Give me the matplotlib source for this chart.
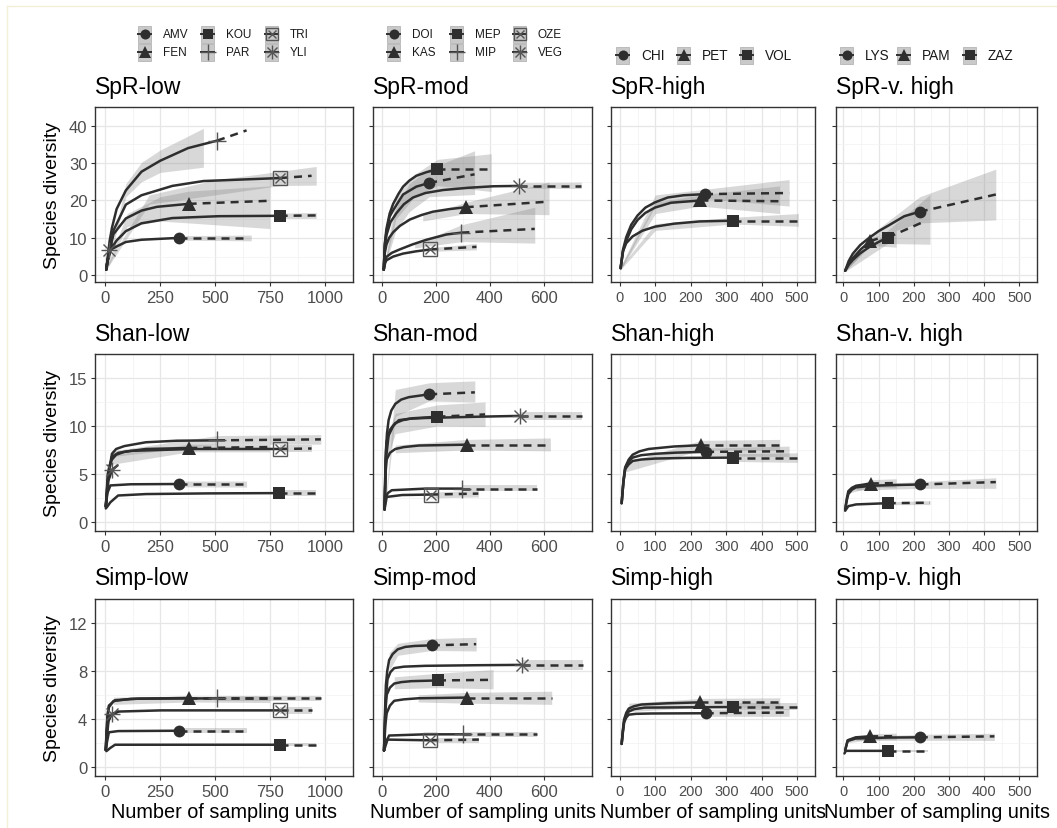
import matplotlib
matplotlib.use("Agg")
import matplotlib.pyplot as plt
from matplotlib.patches import Rectangle

plt.rcParams['font.family'] = ['Liberation Sans', 'DejaVu Sans']

W, H = 1057, 829
LINE = '#2e2e2e'
THIN = '#555555'
RIB = '#808080'

# marker shape for every site
shapes = {
    'AMV': 'o', 'FEN': '^', 'KOU': 's', 'PAR': '+', 'TRI': 'boxx', 'YLI': 'ast',
    'DOI': 'o', 'KAS': '^', 'MEP': 's', 'MIP': '+', 'OZE': 'boxx', 'VEG': 'ast',
    'CHI': 'o', 'PET': '^', 'VOL': 's',
    'LYS': 'o', 'PAM': '^', 'ZAZ': 's',
}

sites_low = ['AMV', 'FEN', 'KOU', 'PAR', 'TRI', 'YLI']
sites_mod = ['DOI', 'KAS', 'MEP', 'MIP', 'OZE', 'VEG']
sites_high = ['CHI', 'PET', 'VOL']
sites_vhigh = ['LYS', 'PAM', 'ZAZ']

# curves: site -> (rarefied x, rarefied y, extrapolated end x, end y)
# ribbons: site -> (x, lower, upper)

# ---- species richness ----
spr_low = {
    'AMV': ([5, 10, 24, 52, 94, 165, 336], [1.5, 3.5, 6.8, 7.7, 8.9, 9.5, 10.0], 642, 10.0),
    'FEN': ([5, 10, 24, 38, 94, 165, 235, 379], [1.5, 3.5, 7.5, 11.0, 15.2, 17.3, 18.3, 19.1], 740, 19.9),
    'KOU': ([5, 10, 24, 52, 94, 165, 305, 516, 792], [1.5, 3.5, 6.8, 9.3, 11.8, 13.9, 15.3, 15.8, 15.9], 958, 16.0),
    'PAR': ([5, 10, 20, 31, 52, 94, 165, 249, 376, 508], [1.5, 3.8, 9.0, 12.7, 17.7, 22.7, 27.7, 30.6, 34.0, 36.0], 642, 38.75),
    'TRI': ([5, 10, 24, 38, 94, 165, 305, 446, 794], [1.5, 3.6, 8.0, 12.0, 18.9, 21.4, 23.9, 25.2, 26.0], 937, 26.6),
    'YLI': ([5, 10, 17], [1.5, 3.5, 6.8], 34, 8.5),
}
spr_low_rib = {
    'AMV': ([336, 663], [9.4, 9.2], [10.6, 10.75]),
    'FEN': ([5, 100, 250, 379, 747], [1.2, 13.0, 14.5, 14.0, 12.5], [2.0, 16.5, 21.0, 22.5, 23.9]),
    'KOU': ([792, 958], [15.2, 15.2], [16.6, 16.8]),
    'PAR': ([8, 94, 165, 250, 446], [1.8, 21.0, 25.0, 27.5, 28.9], [2.2, 24.5, 30.2, 33.5, 39.3]),
    'TRI': ([5, 200, 500, 794, 958], [1.5, 19.0, 21.5, 24.0, 24.1], [2.5, 21.5, 25.5, 27.8, 29.1]),
}
spr_mod = {
    'DOI': ([5, 9, 15, 27, 40, 77, 126, 174], [1.5, 8.2, 11.5, 15.7, 17.4, 21.6, 23.7, 24.7], 343, 27.0),
    'KAS': ([5, 9, 15, 25, 40, 65, 102, 145, 188, 250, 310], [1.5, 6.0, 8.2, 10.0, 11.5, 13.2, 14.9, 16.1, 17.0, 17.7, 18.2], 620, 19.7),
    'MEP': ([5, 9, 15, 27, 40, 60, 77, 100, 126, 165, 205], [1.5, 8.5, 12.4, 16.5, 19.1, 21.8, 23.7, 25.3, 26.6, 27.6, 28.3], 405, 28.3),
    'MIP': ([5, 10, 15, 35, 64, 110, 164, 238, 294], [1.5, 3.8, 4.9, 6.0, 6.9, 8.2, 9.5, 10.9, 11.4], 567, 12.4),
    'OZE': ([5, 10, 15, 40, 77, 125, 178], [1.5, 3.3, 4.0, 5.0, 5.8, 6.4, 6.9], 350, 7.6),
    'VEG': ([5, 9, 15, 30, 52, 80, 114, 160, 226, 320, 412, 508], [1.5, 7.5, 10.7, 14.2, 16.6, 19.0, 20.8, 22.0, 22.8, 23.4, 23.8, 23.9], 740, 23.9),
}
spr_mod_rib = {
    'DOI': ([5, 50, 100, 174, 343], [1.2, 12.0, 17.0, 21.0, 21.6], [2.0, 18.0, 24.5, 28.5, 33.3]),
    'MEP': ([5, 50, 120, 205, 405], [1.2, 15.0, 21.0, 24.0, 22.4], [2.0, 21.0, 27.0, 31.0, 32.5]),
    'VEG': ([508, 740], [23.3, 23.2], [24.8, 24.9]),
    'KAS': ([150, 310, 620], [14.5, 16.5, 16.2], [16.0, 19.5, 24.9]),
    'MIP': ([120, 294, 567], [7.3, 9.0, 8.6], [8.3, 13.5, 18.2]),
    'OZE': ([178, 350], [6.4, 6.8], [7.4, 8.5]),
}
spr_high = {
    'CHI': ([2, 9, 18, 32, 50, 72, 99, 135, 180, 240], [1.9, 6.9, 10.2, 13.5, 16.0, 18.1, 19.5, 20.8, 21.4, 21.7], 477, 22.0),
    'PET': ([2, 9, 18, 32, 50, 72, 99, 144, 227], [1.9, 6.5, 9.2, 12.3, 14.8, 16.7, 18.1, 19.4, 20.0], 450, 19.8),
    'VOL': ([2, 9, 18, 36, 63, 99, 153, 225, 318], [1.9, 6.5, 8.6, 10.4, 11.9, 13.0, 13.8, 14.4, 14.6], 500, 14.6),
}
spr_high_rib = {
    'CHI': ([2, 100, 240, 477], [1.5, 18.5, 20.5, 18.5], [2.3, 21.5, 23.0, 25.6]),
    'PET': ([2, 100, 227, 450], [1.5, 16.5, 18.5, 16.5], [2.3, 19.5, 21.5, 23.9]),
    'VOL': ([2, 100, 318, 503], [1.5, 12.0, 13.7, 13.1], [2.3, 13.8, 15.5, 16.5]),
}
spr_vhigh = {
    'LYS': ([5, 15, 27, 48, 73, 100, 128, 173, 217], [1.2, 3.8, 5.8, 8.1, 10.0, 11.8, 13.3, 15.8, 17.0], 433, 21.6),
    'PAM': ([5, 15, 27, 50, 76], [1.2, 3.2, 4.6, 7.0, 9.1], 150, 11.5),
    'ZAZ': ([5, 15, 27, 48, 73, 100, 126], [1.2, 2.8, 4.1, 5.9, 7.5, 8.9, 10.1], 233, 14.5),
}
spr_vhigh_rib = {
    'LYS': ([5, 100, 217, 433], [1.0, 10.5, 14.0, 14.8], [1.5, 12.5, 21.0, 28.4]),
    'ZAZ': ([5, 126, 246], [1.0, 8.5, 8.3], [2.0, 12.0, 21.6]),
    'PAM': ([5, 76, 150], [1.0, 8.0, 7.5], [2.0, 10.0, 12.0]),
}

# ---- Shannon ----
shan_low = {
    'AMV': ([3, 10, 24, 115, 336], [1.6, 3.0, 3.8, 3.92, 3.95], 642, 3.95),
    'FEN': ([3, 12, 20, 31, 50, 87, 185, 382], [1.6, 5.0, 5.9, 6.5, 7.0, 7.3, 7.6, 7.7], 747, 7.8),
    'KOU': ([3, 10, 24, 59, 185, 466, 789], [1.4, 1.6, 2.05, 2.75, 2.9, 2.97, 3.0], 958, 3.0),
    'PAR': ([3, 10, 17, 31, 50, 87, 185, 326, 508], [1.6, 3.8, 5.2, 7.1, 7.6, 7.9, 8.3, 8.46, 8.5], 979, 8.6),
    'TRI': ([3, 15, 31, 60, 115, 396, 794], [1.6, 5.0, 6.8, 7.2, 7.4, 7.6, 7.6], 937, 7.65),
    'YLI': ([3, 15, 31], [1.6, 4.3, 5.4], 62, 6.0),
}
shan_low_rib = {
    'PAR': ([31, 508, 979], [6.8, 8.1, 8.1], [7.4, 9.0, 9.1]),
    'FEN': ([31, 382, 747], [6.0, 7.3, 7.3], [7.0, 8.1, 8.1]),
    'TRI': ([794, 937], [7.3, 7.3], [8.0, 8.0]),
    'AMV': ([336, 642], [3.65, 3.63], [4.25, 4.26]),
    'KOU': ([789, 958], [2.7, 2.7], [3.3, 3.3]),
}
shan_mod = {
    'DOI': ([8, 11, 13, 17, 23, 33, 48, 70, 98, 174], [1.3, 5.5, 7.4, 9.2, 10.6, 11.6, 12.3, 12.75, 13.0, 13.3], 344, 13.5),
    'KAS': ([8, 12, 16, 28, 48, 80, 136, 313], [1.3, 5.2, 6.5, 7.2, 7.6, 7.8, 7.96, 8.05], 625, 8.05),
    'MEP': ([8, 12, 16, 28, 48, 75, 111, 205], [1.3, 6.5, 8.4, 9.6, 10.3, 10.6, 10.8, 10.96], 382, 11.2),
    'MIP': ([8, 10, 20, 35, 161, 296], [1.3, 2.37, 3.0, 3.3, 3.47, 3.47], 577, 3.47),
    'OZE': ([8, 16, 73, 180], [1.3, 2.6, 2.8, 2.85], 357, 2.95),
    'VEG': ([8, 13, 23, 40, 61, 100, 161, 350, 512], [1.3, 6.5, 9.0, 10.0, 10.6, 10.75, 10.83, 10.96, 11.05], 741, 11.05),
}
shan_mod_rib = {
    'DOI': ([10, 48, 174, 344], [1.2, 11.0, 12.6, 12.5], [1.8, 13.8, 14.5, 14.7]),
    'MEP': ([16, 48, 205, 382], [6.5, 9.2, 10.0, 9.95], [9.0, 11.3, 12.2, 12.5]),
    'VEG': ([512, 741], [10.64, 10.64], [11.46, 11.46]),
    'KAS': ([48, 313, 625], [7.2, 7.5, 7.4], [8.0, 8.6, 8.75]),
    'MIP': ([296, 577], [3.2, 3.2], [3.8, 3.8]),
    'OZE': ([180, 357], [2.5, 2.6], [3.1, 3.3]),
}
shan_high = {
    'CHI': ([5, 10, 15, 25, 36, 60, 99, 160, 243], [1.95, 4.2, 5.6, 6.3, 6.7, 6.95, 7.1, 7.22, 7.3], 477, 7.36),
    'PET': ([5, 10, 15, 25, 36, 55, 81, 153, 230], [1.95, 4.3, 5.7, 6.5, 7.0, 7.35, 7.6, 7.86, 8.0], 450, 8.0),
    'VOL': ([5, 10, 15, 25, 36, 60, 99, 189, 318], [1.95, 4.1, 5.5, 6.0, 6.35, 6.5, 6.6, 6.67, 6.7], 500, 6.7),
}
shan_high_rib = {
    'PET': ([15, 230, 450], [5.2, 7.5, 7.45], [6.2, 8.5, 8.6]),
    'CHI': ([243, 477], [6.9, 6.8], [7.7, 7.9]),
    'VOL': ([318, 500], [6.3, 6.2], [7.1, 7.2]),
}
shan_vhigh = {
    'LYS': ([5, 10, 14, 24, 36, 82, 146, 219], [1.3, 2.3, 2.9, 3.35, 3.6, 3.77, 3.84, 3.9], 433, 4.15),
    'PAM': ([5, 10, 14, 24, 36, 78], [1.3, 2.5, 3.2, 3.55, 3.77, 4.0], 150, 4.05),
    'ZAZ': ([5, 14, 36, 126], [1.16, 1.64, 1.82, 1.95], 246, 2.0),
}
shan_vhigh_rib = {
    'LYS': ([36, 219, 433], [3.3, 3.5, 3.5], [3.9, 4.2, 4.6]),
    'PAM': ([14, 78, 150], [3.0, 3.6, 3.55], [3.4, 4.4, 4.5]),
    'ZAZ': ([126, 246], [1.8, 1.8], [2.1, 2.2]),
}

# ---- Simpson ----
simp_low = {
    'AMV': ([3, 6, 17, 59, 336], [1.4, 1.83, 2.87, 2.97, 3.0], 642, 3.0),
    'FEN': ([3, 10, 17, 38, 115, 379], [1.4, 4.0, 4.96, 5.48, 5.66, 5.74], 747, 5.74),
    'KOU': ([3, 6, 24, 45, 792], [1.4, 1.3, 1.57, 1.83, 1.83], 958, 1.83),
    'PAR': ([3, 10, 17, 45, 150, 508], [1.4, 4.2, 5.1, 5.55, 5.68, 5.7], 979, 5.7),
    'TRI': ([3, 6, 14, 24, 59, 256, 794], [1.4, 2.9, 3.8, 4.3, 4.6, 4.7, 4.7], 937, 4.7),
    'YLI': ([3, 15, 31], [1.4, 3.8, 4.4], 62, 4.6),
}
simp_low_rib = {
    'FEN': ([38, 379, 747], [5.2, 5.4, 5.35], [5.8, 5.9, 5.9]),
    'PAR': ([508, 979], [5.5, 5.5], [5.9, 5.9]),
    'TRI': ([794, 937], [4.4, 4.4], [5.0, 5.0]),
    'AMV': ([336, 642], [2.8, 2.8], [3.2, 3.2]),
    'KOU': ([792, 958], [1.7, 1.7], [1.95, 1.95]),
}
simp_mod = {
    'DOI': ([6, 10, 13, 18, 25, 38, 57, 85, 120, 184], [1.35, 4.8, 6.8, 8.0, 8.9, 9.4, 9.8, 10.0, 10.08, 10.13], 349, 10.23),
    'KAS': ([6, 11, 16, 28, 44, 80, 133, 313], [1.35, 3.5, 4.47, 5.1, 5.5, 5.62, 5.71, 5.77], 630, 5.77),
    'MEP': ([6, 11, 16, 28, 44, 70, 108, 207], [1.35, 4.6, 6.0, 6.6, 6.94, 7.06, 7.14, 7.2], 412, 7.25),
    'MIP': ([6, 9, 25, 159, 300], [1.35, 1.87, 2.6, 2.7, 2.7], 577, 2.7),
    'OZE': ([6, 19, 95, 178], [1.35, 2.26, 2.23, 2.2], 359, 2.26),
    'VEG': ([6, 12, 19, 30, 44, 80, 159, 349, 520], [1.35, 5.5, 7.3, 7.9, 8.23, 8.35, 8.42, 8.47, 8.5], 748, 8.5),
}
simp_mod_rib = {
    'DOI': ([25, 57, 184, 349], [8.0, 9.3, 9.7, 9.66], [9.5, 10.3, 10.7, 10.8]),
    'VEG': ([520, 748], [8.05, 8.05], [8.9, 8.9]),
    'MEP': ([44, 207, 412], [6.5, 6.6, 6.5], [7.5, 7.8, 8.1]),
    'KAS': ([133, 313, 630], [5.4, 5.3, 5.2], [6.0, 6.2, 6.3]),
    'MIP': ([300, 577], [2.5, 2.5], [2.9, 2.9]),
    'OZE': ([178, 359], [2.0, 2.0], [2.4, 2.4]),
}
simp_high = {
    'CHI': ([5, 9, 12, 18, 25, 45, 89, 242], [1.9, 3.0, 3.69, 4.1, 4.34, 4.41, 4.44, 4.46], 477, 4.52),
    'PET': ([5, 9, 12, 18, 25, 40, 61, 134, 227], [1.9, 3.2, 3.95, 4.5, 4.85, 5.05, 5.19, 5.29, 5.37], 450, 5.37),
    'VOL': ([5, 9, 12, 18, 25, 40, 70, 319], [1.9, 3.1, 3.82, 4.3, 4.6, 4.8, 4.93, 4.98], 500, 4.98),
}
simp_high_rib = {
    'PET': ([25, 227, 450], [4.6, 4.95, 4.85], [5.3, 5.7, 5.75]),
    'VOL': ([319, 500], [4.7, 4.7], [5.3, 5.3]),
    'CHI': ([242, 477], [4.2, 4.2], [4.8, 4.85]),
}
simp_vhigh = {
    'LYS': ([5, 12, 35, 126, 217], [1.37, 2.14, 2.35, 2.43, 2.45], 429, 2.53),
    'PAM': ([5, 12, 35, 76], [1.37, 2.2, 2.45, 2.53], 150, 2.55),
    'ZAZ': ([3, 7, 126], [1.1, 1.32, 1.32], 240, 1.32),
}
simp_vhigh_rib = {
    'LYS': ([35, 217, 429], [2.2, 2.2, 2.19], [2.5, 2.7, 2.79]),
    'PAM': ([12, 76, 150], [2.0, 2.25, 2.25], [2.4, 2.75, 2.8]),
    'ZAZ': ([126, 240], [1.25, 1.25], [1.4, 1.4]),
}

row_titles = [['SpR-low', 'SpR-mod', 'SpR-high', 'SpR-v. high'],
              ['Shan-low', 'Shan-mod', 'Shan-high', 'Shan-v. high'],
              ['Simp-low', 'Simp-mod', 'Simp-high', 'Simp-v. high']]
grid_curves = [[spr_low, spr_mod, spr_high, spr_vhigh],
               [shan_low, shan_mod, shan_high, shan_vhigh],
               [simp_low, simp_mod, simp_high, simp_vhigh]]
grid_ribs = [[spr_low_rib, spr_mod_rib, spr_high_rib, spr_vhigh_rib],
             [shan_low_rib, shan_mod_rib, shan_high_rib, shan_vhigh_rib],
             [simp_low_rib, simp_mod_rib, simp_high_rib, simp_vhigh_rib]]

col_xticks = [[0, 250, 500, 750, 1000], [0, 200, 400, 600],
              [0, 100, 200, 300, 400, 500], [0, 100, 200, 300, 400, 500]]
row_yticks = [[0, 10, 20, 30, 40], [0, 5, 10, 15], [0, 4, 8, 12]]

# layout in pixels
col_px = [(95, 353), (373, 592), (611, 815), (836, 1037)]
row_px = [(108, 283), (355, 532), (600, 777)]
col_xlim = [(-46, 1042), (-35, 780), (-25, 527), (-21, 529)]
row_ylim = [(-1.8, 41.9), (-0.95, 15.76), (-0.78, 13.04)]
col_tick_fs = [12, 12, 10.5, 10.5]


def put_marker(ax, x, y, shape, s=1.0, z=5):
    kw = dict(linestyle='none', zorder=z)
    if shape == 'o':
        ax.plot(x, y, 'o', ms=8.5 * s, color=LINE, mew=0, **kw)
    elif shape == '^':
        ax.plot(x, y, '^', ms=9.5 * s, color=LINE, mew=0, **kw)
    elif shape == 's':
        ax.plot(x, y, 's', ms=8.5 * s, color=LINE, mew=0, **kw)
    elif shape == '+':
        ax.plot(x, y, '+', ms=13 * s, mew=1.0, color=THIN, **kw)
    elif shape == 'boxx':
        ax.plot(x, y, 's', ms=9.5 * s, mfc='none', mec=THIN, mew=1.0, **kw)
        ax.plot(x, y, 'x', ms=6.5 * s, mew=1.0, color=THIN, **kw)
    elif shape == 'ast':
        ax.plot(x, y, '+', ms=12 * s, mew=1.0, color=THIN, **kw)
        ax.plot(x, y, 'x', ms=9 * s, mew=1.0, color=THIN, **kw)


fig = plt.figure(figsize=(W / 100, H / 100), dpi=100)

for r in range(3):
    for c in range(4):
        (x0, x1), (y0, y1) = col_px[c], row_px[r]
        ax = fig.add_axes([x0 / W, 1 - y1 / H, (x1 - x0) / W, (y1 - y0) / H])
        curves = grid_curves[r][c]
        ribs = grid_ribs[r][c]
        for site, (rx, lo, hi) in ribs.items():
            ax.fill_between(rx, lo, hi, color=RIB, alpha=0.3, lw=0, zorder=2)
        for site, (xs, ys, ex, ey) in curves.items():
            ax.plot(xs, ys, color=LINE, lw=1.8, zorder=3,
                    solid_capstyle='round', solid_joinstyle='round')
            ax.plot([xs[-1], ex], [ys[-1], ey], color=LINE, lw=1.8,
                    ls=(0, (3.2, 2.4)), zorder=3)
        for site, (xs, ys, ex, ey) in curves.items():
            put_marker(ax, xs[-1], ys[-1], shapes[site])

        xt = col_xticks[c]
        yt = row_yticks[r]
        ax.set_xlim(*col_xlim[c])
        ax.set_ylim(*row_ylim[r])
        ax.set_xticks(xt)
        ax.set_yticks(yt)
        ax.set_xticks([(a + b) / 2 for a, b in zip(xt[:-1], xt[1:])] + [xt[-1] + (xt[1] - xt[0]) / 2], minor=True)
        ax.set_yticks([(a + b) / 2 for a, b in zip(yt[:-1], yt[1:])] + [yt[-1] + (yt[1] - yt[0]) / 2], minor=True)
        ax.grid(which='major', color='#e6e6e6', lw=0.9, zorder=0)
        ax.grid(which='minor', color='#f2f2f2', lw=0.5, zorder=0)
        ax.set_axisbelow(True)
        ax.tick_params(which='major', length=3, width=0.8, color='#333333',
                       labelcolor='#4d4d4d', labelsize=col_tick_fs[c], pad=2.5)
        ax.tick_params(which='minor', length=0)
        if c > 0:
            ax.set_yticklabels([])
        else:
            ax.tick_params(axis='y', labelsize=12)
        for sp in ax.spines.values():
            sp.set_color('#333333')
            sp.set_linewidth(1.0)

# overlay in pixel coordinates for titles, labels and legends
ov = fig.add_axes([0, 0, 1, 1], zorder=-1)
ov.set_xlim(0, W)
ov.set_ylim(H, 0)
ov.axis('off')

ov.plot([7, W], [7, 7], color='#f4f0d8', lw=1)
ov.plot([7, 7], [7, H], color='#f4f0d8', lw=1)

for r in range(3):
    for c in range(4):
        ov.text(col_px[c][0], row_px[r][0] - 21, row_titles[r][c], fontsize=16.5,
                ha='left', va='center', color='black')
    ov.text(53, (row_px[r][0] + row_px[r][1]) / 2, 'Species diversity', fontsize=14,
            rotation=90, ha='center', va='center')
for c in range(4):
    ov.text((col_px[c][0] + col_px[c][1]) / 2, 813, 'Number of sampling units',
            fontsize=14.3, ha='center', va='center')

legend_sites = [sites_low, sites_mod, sites_high, sites_vhigh]
legend_keys = [[138, 201, 265], [387, 450, 513], [616, 677, 740], [840, 897, 963]]
legend_fs = [8.5, 8.5, 9.8, 9.8]
for c in range(4):
    names = legend_sites[c]
    nrow = 2 if len(names) > 3 else 1
    ycs = [35, 53] if nrow == 2 else [56]
    for i, name in enumerate(names):
        kx = legend_keys[c][i // nrow]
        ky = ycs[i % nrow]
        ov.add_patch(Rectangle((kx, ky - 8.5), 13, 17, facecolor='#c9c9c9',
                               edgecolor='#b5b5b5', lw=0.6))
        ov.plot([kx, kx + 13], [ky, ky], color=LINE, lw=1.4)
        put_marker(ov, kx + 6.5, ky, shapes[name], s=0.85)
        ov.text(kx + 25, ky, name, fontsize=legend_fs[c], ha='left', va='center',
                color='#1a1a1a')

fig.savefig('out.png', dpi=100)
